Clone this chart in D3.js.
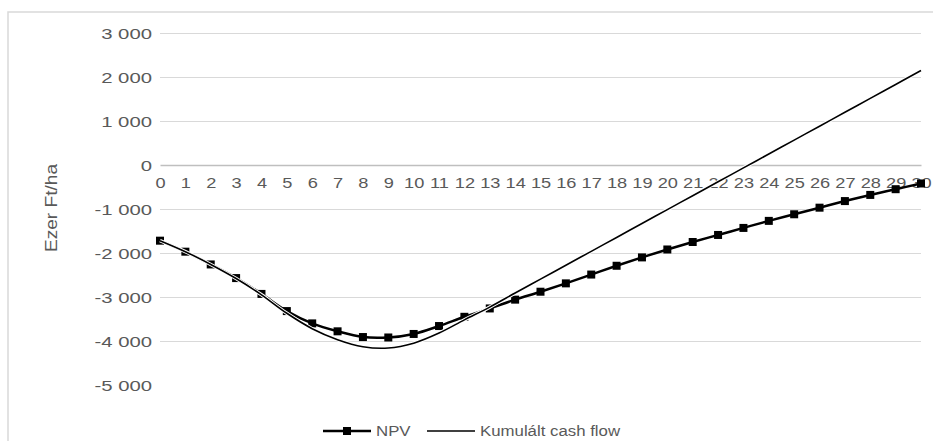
<!DOCTYPE html>
<html>
<head>
<meta charset="utf-8">
<script src="https://cdn.jsdelivr.net/npm/d3@7"></script>
<style>
  body { margin:0; background:#fff; }
  text { font-family: "Liberation Sans", Arial, sans-serif; fill:#595959; }
</style>
</head>
<body>
<div id="canvas" class="canvas" style="width:933px;height:441px;"></div>
<script>
// --- data
var years = d3.range(0, 31);
var npv = [-1720, -1970, -2260, -2570, -2930, -3320, -3600, -3780, -3910, -3920,
           -3840, -3660, -3450, -3260, -3060, -2880, -2690, -2490, -2290, -2100,
           -1920, -1750, -1590, -1430, -1270, -1120, -970, -820, -680, -550, -420];
var cumCash = [-1720, -1970, -2260, -2580, -2950, -3370, -3720, -3970, -4130, -4160,
               -4050, -3820, -3520, -3230, -2910, -2594, -2278, -1962, -1646, -1330,
               -1014, -698, -382, -66, 250, 566, 882, 1198, 1514, 1830, 2146];
var yTicks = [3000, 2000, 1000, 0, -1000, -2000, -3000, -4000, -5000];
var seriesNames = ['NPV', 'Kumulált cash flow'];
var yTitle = 'Ezer Ft/ha';

// --- Margin convention
var W = 933, H = 441;
var M = {top:33, right:12, bottom:56, left:160};
var w = 921 - M.left,
    h = 385 - M.top;

var svg = d3.select('.canvas')
  .append('svg')
  .attr('width', W)
  .attr('height', H);

// chart area border (only top/left are in frame)
svg.append('rect')
  .attr('x', 8).attr('y', 12)
  .attr('width', 1000).attr('height', 600)
  .attr('fill', 'none')
  .attr('stroke', '#d9d9d9')
  .attr('stroke-width', 1.5);

var plot = svg.append('g')
  .attr('transform', 'translate(' + M.left + ',' + M.top + ')');

// --- scales
var scaleX = d3.scaleLinear().domain([0, 30]).range([0, w]);
var scaleY = d3.scaleLinear().domain([-5000, 3000]).range([h, 0]);

// widen glyphs a bit, the source is stretched horizontally
function stretch(sel, k) {
  sel.each(function() {
    var len = this.getComputedTextLength();
    d3.select(this).attr('textLength', len * k).attr('lengthAdjust', 'spacingAndGlyphs');
  });
}

// "3 000", "-1 000" (plain hyphen, space as thousands sep)
var fmt = function(v) { return d3.format(',')(v).replace(/,/g, ' ').replace('\u2212', '-'); };

// --- gridlines
plot.append('g')
  .selectAll('line')
  .data(yTicks.filter(function(d) { return d !== -5000 && d !== 0; }))
  .enter().append('line')
  .attr('x1', 0).attr('x2', w)
  .attr('y1', function(d) { return Math.round(scaleY(d)) + 0.5; })
  .attr('y2', function(d) { return Math.round(scaleY(d)) + 0.5; })
  .attr('stroke', '#d9d9d9')
  .attr('stroke-width', 1.2);

// --- y axis labels
var yAxis = plot.append('g')
  .call(d3.axisLeft(scaleY).tickValues(yTicks).tickSize(0).tickPadding(8).tickFormat(fmt));
yAxis.select('.domain').remove();
yAxis.selectAll('text')
  .style('font-size', '14px')
  .attr('fill', '#595959')
  .attr('dy', '0.36em');
stretch(yAxis.selectAll('text'), 1.45);

// --- x axis (crosses at 0)
var xAxis = plot.append('g')
  .attr('transform', 'translate(0,' + scaleY(0) + ')')
  .call(d3.axisBottom(scaleX).tickValues(years).tickSize(0).tickPadding(0).tickFormat(d3.format('d')));
xAxis.select('.domain')
  .attr('stroke', '#bfbfbf')
  .attr('stroke-width', 1.4);
xAxis.selectAll('text')
  .style('font-size', '14px')
  .attr('fill', '#595959')
  .attr('y', 23)
  .attr('dy', 0);
stretch(xAxis.selectAll('text'), 1.3);

// --- y title
svg.append('text')
  .attr('transform', 'translate(57,208) rotate(-90)')
  .attr('text-anchor', 'middle')
  .attr('textLength', 88)
  .attr('lengthAdjust', 'spacingAndGlyphs')
  .style('font-size', '16px')
  .text(yTitle);

// --- lines
var line = d3.line()
  .x(function(d, i) { return scaleX(years[i]); })
  .y(function(d) { return scaleY(d); })
  .curve(d3.curveCatmullRom.alpha(0.5));

plot.append('path')
  .attr('d', line(npv))
  .attr('fill', 'none')
  .attr('stroke', '#000')
  .attr('stroke-width', 2.5);

plot.selectAll('.mk')
  .data(npv)
  .enter().append('rect')
  .attr('class', 'mk')
  .attr('x', function(d, i) { return scaleX(years[i]) - 4; })
  .attr('y', function(d) { return scaleY(d) - 4; })
  .attr('width', 8).attr('height', 8)
  .attr('fill', '#000');

plot.append('path')
  .attr('d', line(cumCash))
  .attr('fill', 'none')
  .attr('stroke', '#fff')
  .attr('stroke-width', 3.5);

plot.append('path')
  .attr('d', line(cumCash))
  .attr('fill', 'none')
  .attr('stroke', '#000')
  .attr('stroke-width', 1.6);

// --- legend
var legend = svg.append('g').attr('transform', 'translate(0,431)');

var lg1 = legend.append('g').attr('transform', 'translate(323,0)');
lg1.append('line').attr('x1', 0).attr('x2', 48).attr('stroke', '#000').attr('stroke-width', 2.5);
lg1.append('rect').attr('x', 20).attr('y', -4).attr('width', 8).attr('height', 8).attr('fill', '#000');
var t1 = lg1.append('text').attr('x', 53).attr('dy', '0.35em').style('font-size', '14px').text(seriesNames[0]);
stretch(t1, 1.2);

var lg2 = legend.append('g').attr('transform', 'translate(427,0)');
lg2.append('line').attr('x1', 0).attr('x2', 48).attr('stroke', '#000').attr('stroke-width', 1.6);
var t2 = lg2.append('text').attr('x', 53).attr('dy', '0.35em').style('font-size', '14px').text(seriesNames[1]);
stretch(t2, 1.2);
</script>
</body>
</html>
